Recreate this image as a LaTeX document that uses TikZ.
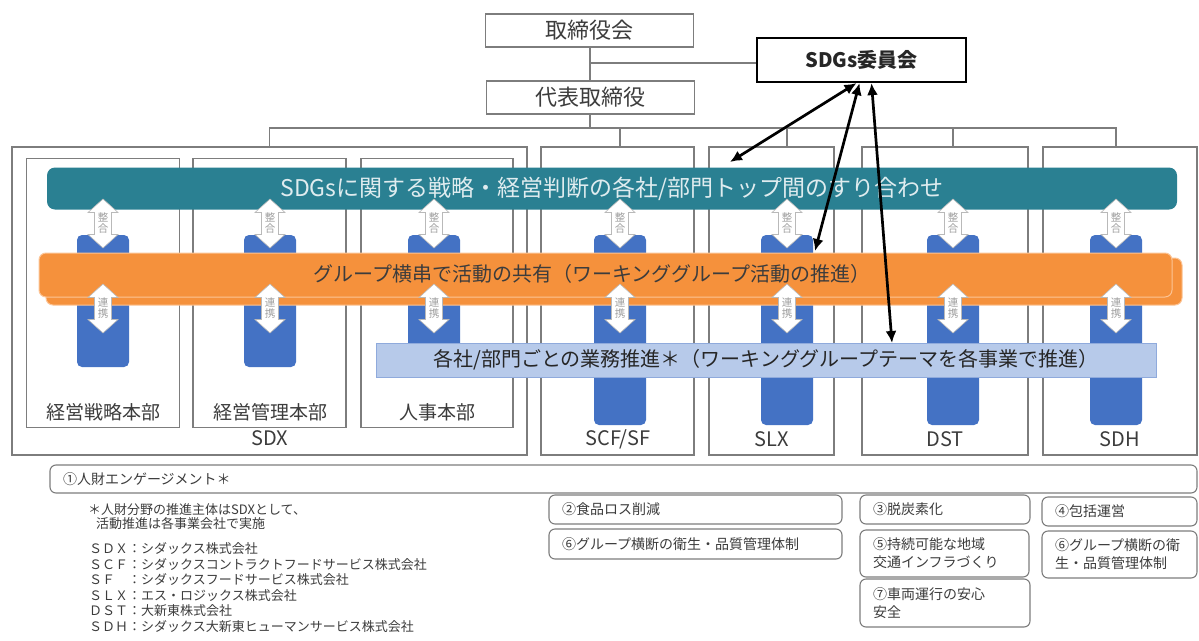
\documentclass[tikz,border=0pt]{standalone}
\usepackage{fontspec}
\setmainfont{Noto Sans CJK JP}
\usetikzlibrary{arrows.meta}
\definecolor{tealband}{RGB}{42,128,146}
\definecolor{orangeband}{RGB}{245,145,60}
\definecolor{orangeedge}{RGB}{252,196,150}
\definecolor{lightband}{RGB}{183,202,234}
\definecolor{lightedge}{RGB}{143,170,220}
\definecolor{pillarblue}{RGB}{68,114,196}
\definecolor{linegray}{RGB}{125,125,125}
\definecolor{textgray}{RGB}{60,60,60}
\newcommand\fsz[2]{\fontsize{#1}{#2}\selectfont}
\tikzset{
 orgbox/.style={draw=linegray, line width=1.2pt, inner sep=0pt, minimum width=208pt, minimum height=33pt, font=\fsz{22}{26}, text=textgray},
 orgline/.style={draw=linegray, line width=1.2pt},
 compbox/.style={draw=linegray, line width=1.5pt, inner sep=0pt},
 pillar/.style={fill=pillarblue, rounded corners=5pt, inner sep=0pt, minimum width=52pt},
 collabel/.style={font=\fsz{19}{22}, text=textgray, inner sep=0pt},
 complabel/.style={font=\fsz{20}{24}, text=textgray, inner sep=0pt},
 band/.style={inner sep=0pt},
 blk/.style={line width=2.7pt, {Latex[length=12pt,width=11pt]}-{Latex[length=12pt,width=11pt]}},
 themebox/.style={draw=linegray, line width=1.1pt, rounded corners=6pt, inner xsep=13pt, inner ysep=0pt, align=left, font=\fsz{14}{18}, text=textgray},
 note/.style={anchor=west, inner sep=0pt, font=\fsz{13}{15}, text=textgray},
 pics/dbl/.style={code={
   \path[fill=white, draw=gray!55, line width=0.6pt] (0,-24.5) -- (15,-11) -- (8.5,-11) -- (8.5,11) -- (15,11) -- (0,24.5) -- (-15,11) -- (-8.5,11) -- (-8.5,-11) -- (-15,-11) -- cycle;
   \node[font=\fsz{10.5}{11}, text=gray!75, align=center, inner sep=0pt] (-t) at (0,0) {#1};
 }},
}
\begin{document}
\begin{tikzpicture}[x=1pt,y=-1pt]
\useasboundingbox (0,0) rectangle (1199,640);
\fill[white] (0,0) rectangle (1199,640);

% top organisation
\node[orgbox] (board) at (589.5,30.5) {取締役会};
\node[orgbox] (ceo) at (590.5,97.5) {代表取締役};
\node[draw=black, line width=2.2pt, inner sep=0pt, minimum width=209pt, minimum height=44pt, font=\bfseries\fsz{20}{24}, text=black!85] (sdgs) at (861.5,60) {SDGs委員会};

% companies
\node[compbox, minimum width=515pt, minimum height=308pt] (sdx) at (269.5,301) {};
\node[compbox, minimum width=153pt, minimum height=269pt] (dept1) at (103,293) {};
\node[compbox, minimum width=153pt, minimum height=269pt] (dept2) at (269.5,293) {};
\node[compbox, minimum width=152pt, minimum height=269pt] (dept3) at (437,293) {};
\node[compbox, minimum width=153pt, minimum height=308pt] (scf) at (617.5,301) {};
\node[compbox, minimum width=125pt, minimum height=308pt] (slx) at (771.5,301) {};
\node[compbox, minimum width=166pt, minimum height=308pt] (dst) at (945,301) {};
\node[compbox, minimum width=154pt, minimum height=308pt] (sdh) at (1120,301) {};

% pillars
\node[pillar, minimum height=132pt] (p1) at (103,301) {};
\node[pillar, minimum height=132pt] (p2) at (270,301) {};
\node[pillar, minimum height=132pt] (p3) at (434,301) {};
\node[pillar, minimum height=190pt] (p4) at (620,330) {};
\node[pillar, minimum height=190pt] (p5) at (787,330) {};
\node[pillar, minimum height=190pt] (p6) at (953,330) {};
\node[pillar, minimum height=190pt] (p7) at (1116,330) {};

% organisation lines
\coordinate (bus) at (590,128);
\draw[orgline] (board.south -| bus) -- (ceo.north -| bus);
\draw[orgline] ([yshift=-3pt]sdgs.west -| bus) -- ([yshift=-3pt]sdgs.west);
\draw[orgline] (ceo.south -| bus) -- (bus);
\draw[orgline] (sdx.north) |- (bus) -| (p7 |- sdh.north);
\draw[orgline] (p4 |- bus) -- (p4 |- scf.north);
\draw[orgline] (p5 |- bus) -- (p5 |- slx.north);
\draw[orgline] (p6 |- bus) -- (p6 |- dst.north);

% teal band
\node[band, fill=tealband, rounded corners=8pt, minimum width=1130pt, minimum height=42pt, font=\fsz{23}{27}, text=white!85!tealband] (strategy) at (612,188.5) {SDGsに関する戦略・経営判断の各社/部門トップ間のすり合わせ};

\coordinate (ua) at (0,223.5);
\coordinate (la) at (0,308.5);
\foreach \n in {1,...,7} { \pic (up\n) at (p\n |- ua) {dbl={整\\合}}; }

% orange band
\node[band, fill=orangeband, draw=orangeedge, line width=1pt, rounded corners=7pt, minimum width=1136pt, minimum height=47pt] (shareback) at (614,281.5) {};
\node[band, fill=orangeband, draw=orangeedge, line width=1pt, rounded corners=7pt, minimum width=1133pt, minimum height=44pt] (share) at (605.5,275) {};
\node[font=\fsz{20}{24}, text=textgray, inner sep=0pt] (sharetxt) at (592,274) {グループ横串で活動の共有（ワーキンググループ活動の推進）};

\foreach \n in {1,...,7} { \pic (lo\n) at (p\n |- la) {dbl={連\\携}}; }

% light blue band
\node[band, fill=lightband, draw=lightedge, line width=0.8pt, minimum width=780pt, minimum height=34pt, font=\fsz{20}{24}, text=black!85] (ops) at (766,360) {各社/部門ごとの業務推進＊（ワーキンググループテーマを各事業で推進）};

% labels
\node[collabel] (l1) at (103,412) {経営戦略本部};
\node[collabel] (l2) at (270,412) {経営管理本部};
\node[collabel] (l3) at (437,412) {人事本部};
\node[complabel] (lsdx) at (270,438) {SDX};
\node[complabel] (lscf) at (618,439) {SCF/SF};
\node[complabel] (lslx) at (772,439) {SLX};
\node[complabel] (ldst) at (945,439) {DST};
\node[complabel] (lsdh) at (1120,439) {SDH};

% black arrows
\coordinate (e1) at (730,162);
\coordinate (e2) at (815,251);
\coordinate (e3) at (892,343);
\draw[blk] ([xshift=-5pt]sdgs.south) -- (e1);
\draw[blk] ([xshift=-2pt]sdgs.south) -- (e2);
\draw[blk] ([xshift=10pt]sdgs.south) -- (e3);

% theme boxes
\node[themebox, text width=1121pt, minimum height=28pt] (engage) at (623.5,479) {①人財エンゲージメント＊};
\node[themebox, text width=267pt, minimum height=29pt] (food) at (695.5,509.5) {②食品ロス削減};
\node[themebox, text width=267pt, minimum height=30pt] (hyg1) at (695.5,544) {⑥グループ横断の衛生・品質管理体制};
\node[themebox, text width=144pt, minimum height=29pt] (carbon) at (945,509.5) {③脱炭素化};
\node[themebox, text width=143pt, minimum height=47pt] (infra) at (944.5,553.5) {⑤持続可能な地域\\交通インフラづくり};
\node[themebox, text width=144pt, minimum height=48pt] (safe) at (945,603) {⑦車両運行の安心\\安全};
\node[themebox, text width=129pt, minimum height=29pt] (mgmt) at (1119.5,511.5) {④包括運営};
\node[themebox, text width=129pt, minimum height=47pt] (hyg2) at (1119.5,554.5) {⑥グループ横断の衛\\生・品質管理体制};

% notes
\node[note] (n1) at (88,510) {＊人財分野の推進主体はSDXとして、};
\node[note] (n2) at (96,524) {活動推進は各事業会社で実施};
\node[note] (c1) at (89,549) {ＳＤＸ：シダックス株式会社};
\node[note] (c2) at (89,564.5) {ＳＣＦ：シダックスコントラクトフードサービス株式会社};
\node[note] (c3) at (89,580) {ＳＦ　：シダックスフードサービス株式会社};
\node[note] (c4) at (89,595.5) {ＳＬＸ：エス・ロジックス株式会社};
\node[note] (c5) at (89,611) {ＤＳＴ：大新東株式会社};
\node[note] (c6) at (89,626.5) {ＳＤＨ：シダックス大新東ヒューマンサービス株式会社};
\end{tikzpicture}
\end{document}
